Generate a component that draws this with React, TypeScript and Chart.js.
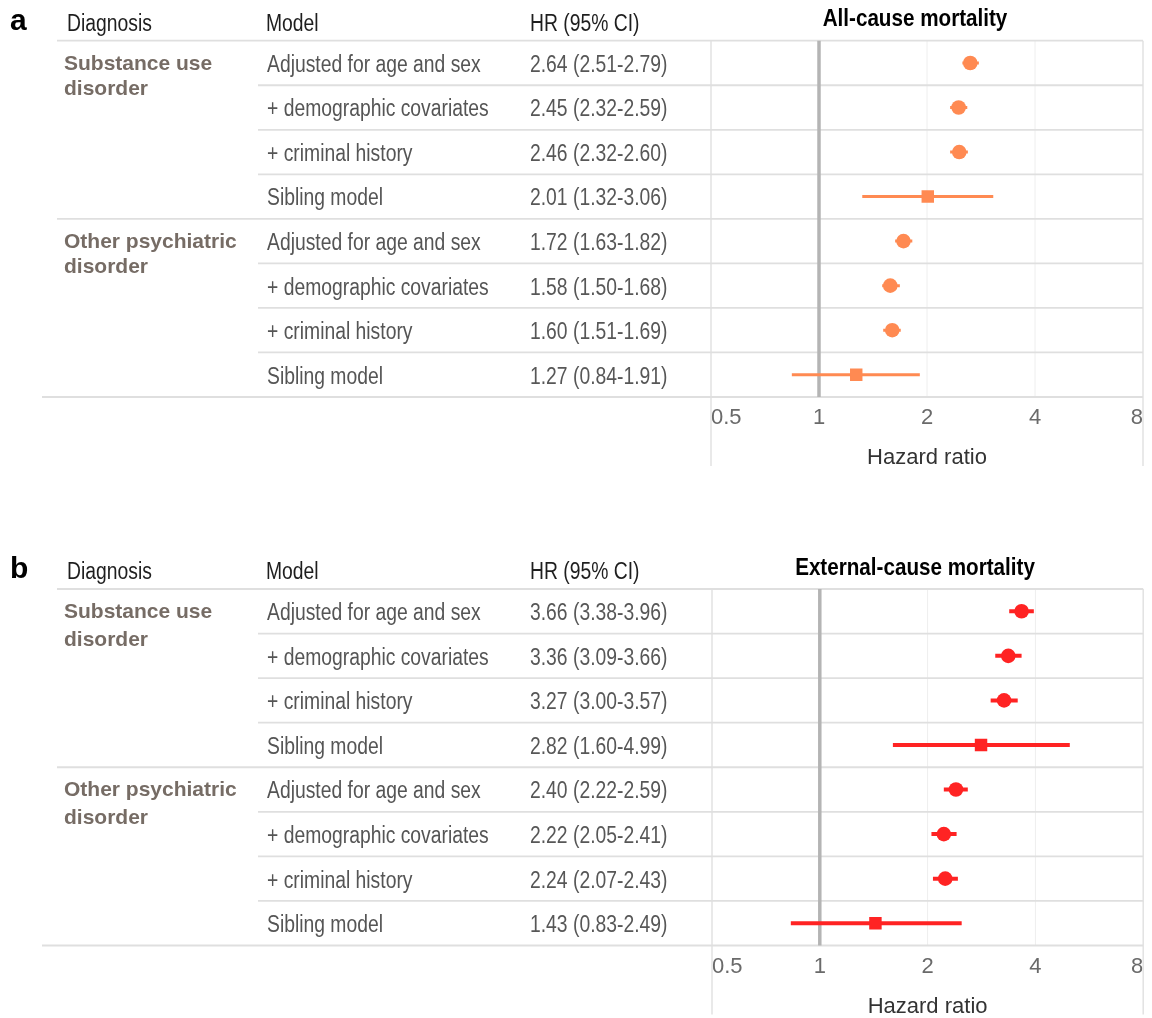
import React, { useEffect, useRef } from 'react';
import { Chart, registerables } from 'chart.js';

Chart.register(...registerables);

// ---------- data ----------
const diagnosisLines = [
  ['Substance use', 'disorder'],
  ['Other psychiatric', 'disorder'],
];
const models = ['Adjusted for age and sex', '+ demographic covariates', '+ criminal history', 'Sibling model'];
const headers = ['Diagnosis', 'Model', 'HR (95% CI)'];

const allCauseHR = [2.64, 2.45, 2.46, 2.01, 1.72, 1.58, 1.6, 1.27];
const allCauseLow = [2.51, 2.32, 2.32, 1.32, 1.63, 1.5, 1.51, 0.84];
const allCauseHigh = [2.79, 2.59, 2.6, 3.06, 1.82, 1.68, 1.69, 1.91];

const externalHR = [3.66, 3.36, 3.27, 2.82, 2.4, 2.22, 2.24, 1.43];
const externalLow = [3.38, 3.09, 3.0, 1.6, 2.22, 2.05, 2.07, 0.83];
const externalHigh = [3.96, 3.66, 3.57, 4.99, 2.59, 2.41, 2.43, 2.49];

const xTicks = [0.5, 1, 2, 4, 8];
const axisTitle = 'Hazard ratio';

// ---------- font detection ----------
function hasFont(name: string) {
  const c = document.createElement('canvas').getContext('2d')!;
  const s = 'Adjusted for age and sex 0123456789';
  c.font = '40px monospace';
  const a = c.measureText(s).width;
  c.font = `40px "${name}", monospace`;
  const b = c.measureText(s).width;
  return Math.abs(a - b) > 0.5;
}

type PanelCfg = {
  letter: string;
  title: string;
  hr: number[];
  lo: number[];
  hi: number[];
  color: string;
  barWidth: number;
  top: number;
  height: number;
  groupGap: number;
  padding: { left: number; right: number; top: number; bottom: number };
};

const panels: PanelCfg[] = [
  {
    letter: 'a',
    title: 'All-cause mortality',
    hr: allCauseHR,
    lo: allCauseLow,
    hi: allCauseHigh,
    color: '#FF8A52',
    barWidth: 3,
    top: 0,
    height: 500,
    groupGap: 25,
    padding: { left: 711, right: 9, top: 40.7, bottom: 31 },
  },
  {
    letter: 'b',
    title: 'External-cause mortality',
    hr: externalHR,
    lo: externalLow,
    hi: externalHigh,
    color: '#FF2323',
    barWidth: 4,
    top: 500,
    height: 518,
    groupGap: 28,
    padding: { left: 712, right: 7, top: 89, bottom: 0.5 },
  },
];

function drawText(
  ctx: CanvasRenderingContext2D,
  text: string,
  x: number,
  y: number,
  font: string,
  color: string,
  sx: number,
  align: CanvasTextAlign = 'left'
) {
  ctx.save();
  ctx.font = font;
  ctx.fillStyle = color;
  ctx.textBaseline = 'middle';
  ctx.textAlign = align;
  ctx.translate(x, y);
  ctx.scale(sx, 1);
  ctx.fillText(text, 0, 0);
  ctx.restore();
}

function Panel({ cfg }: { cfg: PanelCfg }) {
  const ref = useRef<HTMLCanvasElement>(null);

  useEffect(() => {
    const canvas = ref.current!;
    const narrow = hasFont('Liberation Sans Narrow');
    const regFamily = narrow ? '"Liberation Sans Narrow"' : '"Liberation Sans", Arial, sans-serif';
    const regSize = narrow ? 24.5 : 23;
    const sx = narrow ? 1 : 0.84;
    const REG = `${regSize}px ${regFamily}`;
    const BOLD_TITLE = narrow ? `bold 25px "Liberation Sans Narrow"` : `bold 24px "Liberation Sans", Arial`;
    const titleSx = narrow ? 1 : 0.86;
    const BOLD_GROUP = `bold 21px "Liberation Sans", Arial, sans-serif`;

    const rows = cfg.hr.map((_, i) => i + 1);

    const ciDatasets = rows.map((r, i) => ({
      type: 'scatter' as const,
      data: [
        { x: cfg.lo[i], y: r },
        { x: cfg.hi[i], y: r },
      ],
      showLine: true,
      borderColor: cfg.color,
      borderWidth: cfg.barWidth,
      pointRadius: 0,
      pointHoverRadius: 0,
      order: 2,
    }));

    const pointDataset = {
      type: 'scatter' as const,
      data: cfg.hr.map((v, i) => ({ x: v, y: rows[i] })),
      showLine: false,
      pointStyle: rows.map((r) => (r % 4 === 0 ? 'rect' : 'circle')),
      pointRadius: rows.map((r) => (r % 4 === 0 ? 8.8 : 7.3)),
      backgroundColor: cfg.color,
      borderWidth: 0,
      order: 1,
    };

    const tablePlugin = {
      id: 'forestTable',
      beforeDatasetsDraw(chart: any) {
        const { ctx, chartArea: ca, scales } = chart;
        const x = scales.x;
        const y = scales.y;
        const xl = x.getPixelForValue(0.5);
        const xr = x.getPixelForValue(8);
        ctx.save();
        // faint vertical grid at 2 and 4
        ctx.strokeStyle = '#EEEEEE';
        ctx.lineWidth = 1;
        [2, 4].forEach((v) => {
          const px = x.getPixelForValue(v);
          ctx.beginPath();
          ctx.moveTo(px, ca.top);
          ctx.lineTo(px, ca.bottom);
          ctx.stroke();
        });
        // outer verticals
        ctx.strokeStyle = '#E2E2E2';
        ctx.lineWidth = 1.5;
        [xl, xr].forEach((px) => {
          ctx.beginPath();
          ctx.moveTo(px, ca.top);
          ctx.lineTo(px, ca.bottom + 69);
          ctx.stroke();
        });
        // horizontal row lines
        ctx.strokeStyle = '#DFDFDF';
        ctx.lineWidth = 1.8;
        for (let i = 0; i <= rows.length; i++) {
          const py = y.getPixelForValue(i + 0.5);
          let startX = 258;
          if (i === 0 || i === 4) startX = 57;
          if (i === rows.length) startX = 42;
          ctx.beginPath();
          ctx.moveTo(startX, py);
          ctx.lineTo(xr, py);
          ctx.stroke();
        }
        // reference line at HR = 1
        const p1 = x.getPixelForValue(1);
        ctx.strokeStyle = '#B4B4B4';
        ctx.lineWidth = 3.5;
        ctx.beginPath();
        ctx.moveTo(p1, ca.top);
        ctx.lineTo(p1, ca.bottom);
        ctx.stroke();
        ctx.restore();
      },
      afterDraw(chart: any) {
        const { ctx, chartArea: ca, scales } = chart;
        const y = scales.y;
        // panel letter
        drawText(ctx, cfg.letter, 10, ca.top - 19, 'bold 30px "Liberation Sans", Arial', '#000', 1);
        // headers
        const hy = ca.top - 16;
        drawText(ctx, headers[0], 67, hy, REG, '#1E1E1E', sx);
        drawText(ctx, headers[1], 266, hy, REG, '#1E1E1E', sx);
        drawText(ctx, headers[2], 530, hy, REG, '#1E1E1E', sx);
        // title
        drawText(ctx, cfg.title, 915, ca.top - 21, BOLD_TITLE, '#000', titleSx, 'center');
        // rows
        rows.forEach((r, i) => {
          const py = y.getPixelForValue(r) + 2.5;
          drawText(ctx, models[i % 4], 267, py, REG, '#555555', sx);
          const lbl = `${cfg.hr[i].toFixed(2)} (${cfg.lo[i].toFixed(2)}-${cfg.hi[i].toFixed(2)})`;
          drawText(ctx, lbl, 530, py, REG, '#575757', sx);
        });
        // group labels
        diagnosisLines.forEach((lines, g) => {
          const py = y.getPixelForValue(g * 4 + 1) + 1;
          lines.forEach((t, k) => {
            drawText(ctx, t, 64, py + k * cfg.groupGap, BOLD_GROUP, '#766C65', 1);
          });
        });
      },
    };

    const chart = new Chart(canvas, {
      type: 'scatter',
      data: { datasets: [...ciDatasets, pointDataset] as any },
      options: {
        animation: false,
        responsive: false,
        maintainAspectRatio: false,
        devicePixelRatio: 1,
        layout: { padding: cfg.padding },
        plugins: {
          legend: { display: false },
          tooltip: { enabled: false },
        },
        events: [],
        scales: {
          x: {
            type: 'logarithmic',
            min: 0.5,
            max: 8,
            afterBuildTicks: (s: any) => {
              s.ticks = xTicks.map((v) => ({ value: v }));
            },
            afterFit: (s: any) => {
              s.height = 72;
            },
            grid: { display: false, drawTicks: false },
            border: { display: false },
            ticks: {
              align: 'inner',
              padding: 8,
              autoSkip: false,
              maxRotation: 0,
              color: '#6A6A6A',
              font: { family: regFamily, size: narrow ? 25 : 22 },
              callback: (v: any) => String(v),
            },
            title: {
              display: true,
              text: axisTitle,
              color: '#333333',
              padding: 0,
              font: { family: regFamily, size: narrow ? 25 : 22, lineHeight: 1 },
            },
          },
          y: {
            type: 'linear',
            min: 0.5,
            max: 8.5,
            reverse: true,
            display: false,
          },
        },
      } as any,
      plugins: [tablePlugin],
    });
    return () => chart.destroy();
  }, [cfg]);

  return (
    <canvas
      ref={ref}
      width={1152}
      height={cfg.height}
      style={{ position: 'absolute', left: 0, top: cfg.top, width: 1152, height: cfg.height, display: 'block' }}
    />
  );
}

export default function App() {
  return (
    <div style={{ position: 'absolute', left: 0, top: 0, width: 1152, height: 1018, background: '#fff', overflow: 'hidden' }}>
      {panels.map((p) => (
        <Panel key={p.letter} cfg={p} />
      ))}
    </div>
  );
}
